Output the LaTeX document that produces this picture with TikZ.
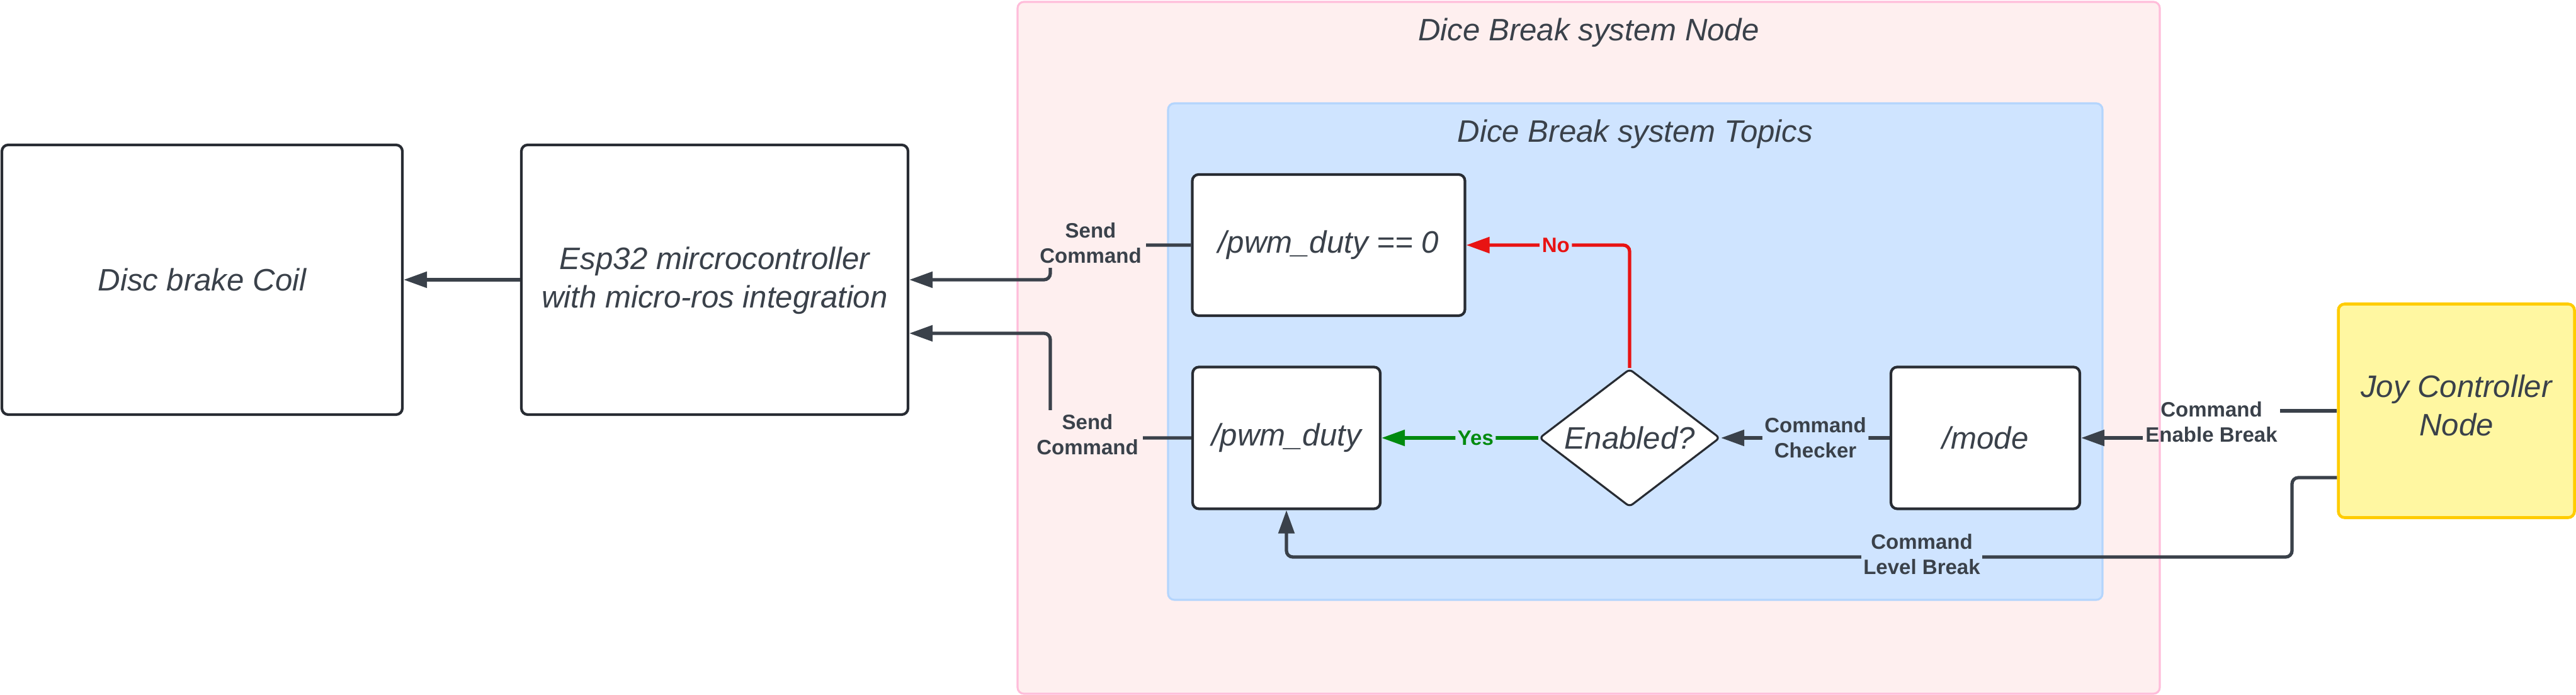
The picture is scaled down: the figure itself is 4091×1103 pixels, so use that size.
\documentclass[tikz,border=0pt]{standalone}
\usepackage{fontspec}
\setmainfont{Liberation Sans}
\usetikzlibrary{arrows.meta,shapes.geometric}

\definecolor{inkdark}{HTML}{3A414A}
\definecolor{boxline}{HTML}{282C33}
\definecolor{pinkfill}{HTML}{FEEFEF}
\definecolor{pinkline}{HTML}{FFBDDA}
\definecolor{bluefill}{HTML}{CFE4FF}
\definecolor{blueline}{HTML}{B4D5FD}
\definecolor{joyfill}{HTML}{FFF7A1}
\definecolor{joyline}{HTML}{FFCC00}
\definecolor{nored}{HTML}{E81313}
\definecolor{yesgreen}{HTML}{008A0E}

\tikzset{
  block/.style={draw=boxline, line width=1.2pt, fill=white, rounded corners=1mm,
    align=center, text=inkdark, inner sep=0pt,
    font=\fontsize{14}{17.4}\selectfont\itshape},
  decide/.style={block, diamond, rounded corners=0.6mm, line width=0.9pt, aspect=1.3},
  title/.style={text=inkdark, inner sep=0pt, font=\fontsize{14}{17.4}\selectfont\itshape},
  wire/.style={draw=inkdark, line width=1.5pt, rounded corners=1mm},
  lbl/.style={text=inkdark, align=center, inner sep=1pt,
    font=\fontsize{9.4}{11.4}\selectfont\bfseries}
}

\begin{document}
\begin{tikzpicture}[x=0.1mm, y=-0.1mm, >={Triangle[length=3.7mm,width=2.5mm]}]
  \useasboundingbox (0,0) rectangle (4091,1103);

  % Containers
  \filldraw[fill=pinkfill, draw=pinkline, line width=0.9pt, rounded corners=1mm] (1616,3) rectangle (3430,1101);
  \filldraw[fill=bluefill, draw=blueline, line width=0.9pt, rounded corners=1mm] (1855,164) rectangle (3339,952);
  \node[title] (systitle) at (2523,52) {Dice Break system Node};
  \node[title] (topictitle) at (2597,213) {Dice Break system Topics};

  % Blocks
  \node[block, minimum width=63.6mm, minimum height=42.8mm] (coil) at (321,444) {Disc brake Coil};
  \node[block, minimum width=61.4mm, minimum height=42.8mm, text depth=2.2pt] (esp) at (1135,444) {Esp32 mircrocontroller\\with micro-ros integration};
  \node[block, minimum width=43.3mm, minimum height=22.4mm] (pwmzero) at (2110,389) {/pwm\_duty == 0};
  \node[block, minimum width=29.8mm, minimum height=22.5mm] (pwmduty) at (2043,695) {/pwm\_duty};
  \node[decide, minimum width=28.7mm, minimum height=21.9mm] (enabled) at (2588,695) {Enabled?};
  \node[block, minimum width=30mm, minimum height=22.5mm] (mode) at (3153,695) {/mode};
  \node[block, draw=joyline, fill=joyfill, line width=1.3pt, minimum width=37.5mm, minimum height=33.9mm, text depth=5.2pt] (joy) at (3901,652) {Joy Controller\\Node};

  % Esp32 to coil
  \draw[wire,->] (esp.west) -- (coil.east);

  % Send command paths
  \coordinate (sendbendA) at (1668,444);
  \coordinate (sendbendB) at (1668,529);
  \draw[wire,->] (pwmzero.west) -| (sendbendA) -- (esp.east);
  \draw[wire,->] (pwmduty.west) -| (sendbendB) -- (esp.east |- sendbendB);
  \node[lbl, fill=pinkfill, inner sep=2pt] (sendA) at (1732,386) {Send\\Command};
  \node[lbl, fill=pinkfill, inner sep=2pt] (sendB) at (1727,690) {Send\\Command};

  % Decision
  \draw[wire, draw=nored, ->] (enabled.north) |- (pwmzero.east)
    node[lbl, text=nored, fill=bluefill, pos=0.726] (nolbl) {No};
  \draw[wire, draw=yesgreen, ->] (enabled.west) -- (pwmduty.east)
    node[lbl, text=yesgreen, fill=bluefill, pos=0.4] (yeslbl) {Yes};
  \draw[wire,->] (mode.west) -- (enabled.east)
    node[lbl, fill=bluefill, pos=0.44] (checker) {Command\\Checker};

  % Joy controller commands
  \node[lbl] (enable) at (3512,670) {Command\\Enable Break};
  \draw[wire] (joy.west) -- (enable.east |- joy.west);
  \draw[wire,->] (enable.west |- mode.east) -- (mode.east);

  \coordinate (levelbend) at (3640,884);
  \draw[wire,->] ([yshift=-10.6mm]joy.west) -| (levelbend) -| (pwmduty.south);
  \node[lbl, fill=bluefill] (level) at (3052,880) {Command\\Level Break};
\end{tikzpicture}
\end{document}
